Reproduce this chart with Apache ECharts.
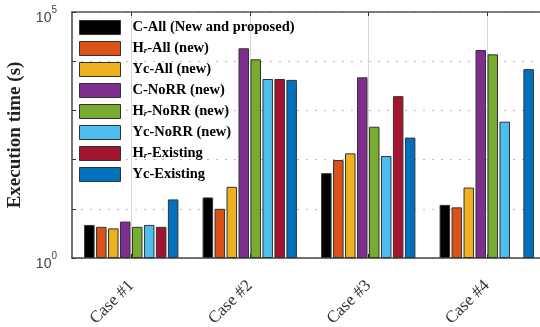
<!DOCTYPE html>
<html>
<head>
<meta charset="utf-8">
<script src="https://cdn.jsdelivr.net/npm/echarts@6/dist/echarts.min.js"></script>
<style>html,body{margin:0;padding:0;background:#fff}#c{width:540px;height:327px}</style>
</head>
<body>
<div id="c"></div>
<script>
const categories = ['Case #1', 'Case #2', 'Case #3', 'Case #4'];
const seriesNames = ['C-All (New and proposed)', 'Hr-All (new)', 'Yc-All (new)', 'C-NoRR (new)', 'Hr-NoRR (new)', 'Yc-NoRR (new)', 'Hr-Existing', 'Yc-Existing'];
const seriesColors = ['#000000', '#D95319', '#EDB120', '#7E2F8E', '#77AC30', '#4DBEEE', '#A2142F', '#0072BD'];
const cAll     = [4.7, 17, 53, 12];
const hrAll    = [4.3, 10, 98, 10.7];
const ycAll    = [4.0, 28, 134, 27];
const cNoRR    = [5.5, 18300, 4700, 16900];
const hrNoRR   = [4.3, 10900, 466, 13800];
const ycNoRR   = [4.7, 4350, 118, 590];
const hrExist  = [4.3, 4350, 1950, null];
const ycExist  = [15.5, 4170, 280, 6900];
const seriesValues = [cAll, hrAll, ycAll, cNoRR, hrNoRR, ycNoRR, hrExist, ycExist];
const yTickLabels = {0: '{a|10}{s|0}', 5: '{a|10}{s|5}'};

const chart = echarts.init(document.getElementById('c'), null, {renderer: 'canvas'});
const topSlots = ['0','1','2','3','4','5','6','7','8'];
const odd = (i) => i % 2 === 1;

const option = {
  animation: false,
  backgroundColor: '#fff',
  grid: {left: 72, top: 12, width: 474, height: 246, containLabel: false, outerBoundsMode: 'none'},
  legend: {
    orient: 'vertical',
    left: 79, top: 20,
    padding: 0,
    itemWidth: 41, itemHeight: 14, itemGap: 6,
    icon: 'rect',
    itemStyle: {borderColor: '#333', borderWidth: 1},
    textStyle: {
      padding: [0, 0, 0, 7],
      rich: {
        b: {fontFamily: 'Liberation Serif', fontWeight: 'bold', fontSize: 14.5, color: '#000', lineHeight: 14},
        sub: {fontFamily: 'Liberation Serif', fontWeight: 'bold', fontStyle: 'italic', fontSize: 9, color: '#000', lineHeight: 9, padding: [5, 0, 0, 0]}
      }
    },
    formatter: function (name) {
      if (name.indexOf('Hr') === 0) return '{b|H}{sub|r}{b|' + name.slice(2) + '}';
      return '{b|' + name + '}';
    },
    data: seriesNames
  },
  xAxis: [{
    type: 'category',
    data: categories,
    position: 'bottom',
    axisLine: {show: true, lineStyle: {color: '#444', width: 1.5}},
    axisTick: {show: true, alignWithLabel: true, inside: true, length: 4, lineStyle: {color: '#222'}},
    axisLabel: {interval: 0, rotate: 45, margin: 25, fontFamily: 'Liberation Serif', fontSize: 17, color: '#333'},
    splitLine: {show: false}
  }, {
    type: 'category',
    data: topSlots,
    position: 'top',
    boundaryGap: false,
    axisLine: {show: true, lineStyle: {color: '#555', width: 1.5}},
    axisTick: {show: true, inside: true, length: 4, interval: odd, lineStyle: {color: '#333'}},
    axisLabel: {show: false},
    splitLine: {show: true, interval: odd, lineStyle: {color: '#d8d8d8', width: 1, type: 'solid'}}
  }],
  yAxis: {
    type: 'log',
    logBase: 10,
    min: 1,
    max: 100000,
    name: 'Execution time (s)',
    nameLocation: 'middle',
    nameGap: 45,
    nameTextStyle: {fontFamily: 'Liberation Serif', fontWeight: 'bold', fontSize: 19, color: '#222'},
    axisLine: {show: true, lineStyle: {color: '#444', width: 1.5}},
    axisTick: {show: true, inside: true, length: 4, lineStyle: {color: '#333'}},
    axisLabel: {
      showMinLabel: true, showMaxLabel: true, margin: 15,
      formatter: function (v) {
        const e = Math.round(Math.log10(v));
        return yTickLabels[e] || '';
      },
      rich: {
        a: {fontFamily: 'Liberation Sans', fontSize: 14, color: '#444', lineHeight: 14, padding: [12, 0, 0, 0]},
        s: {fontFamily: 'Liberation Sans', fontSize: 10, color: '#444', lineHeight: 10, verticalAlign: 'top'}
      }
    },
    splitLine: {show: true, lineStyle: {color: '#bbb', width: 1, type: [2, 7]}}
  },
  series: seriesNames.map((n, i) => ({
    name: n,
    type: 'bar',
    xAxisIndex: 0,
    barWidth: 10.5,
    barGap: '14%',
    itemStyle: {color: seriesColors[i], borderColor: '#333', borderWidth: 1},
    data: seriesValues[i].map(v => v === null ? '-' : v)
  }))
};
chart.setOption(option);
</script>
</body>
</html>
